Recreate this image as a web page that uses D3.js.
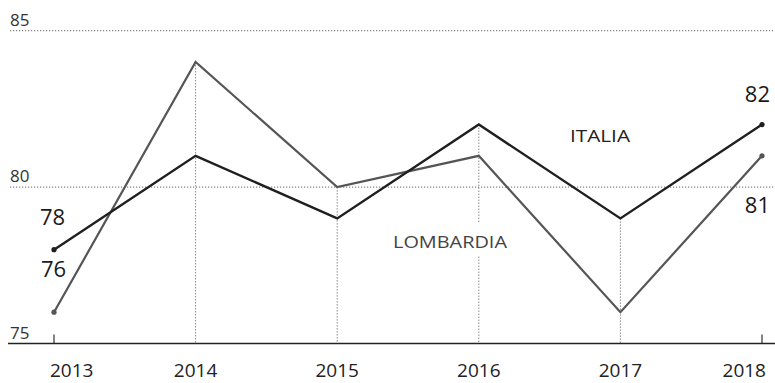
<!DOCTYPE html>
<html>
<head>
<meta charset="utf-8">
<script src="https://cdn.jsdelivr.net/npm/d3@7"></script>
<style>
  html, body { margin: 0; padding: 0; background: #fff; }
  svg { display: block; font-family: "Open Sans", sans-serif; }
</style>
</head>
<body>
<svg id="chart" width="775" height="383"></svg>
<script>
const years = [2013, 2014, 2015, 2016, 2017, 2018];
const italia = [78, 81, 79, 82, 79, 82];
const lombardia = [76, 84, 80, 81, 76, 81];
const yTicks = [75, 80, 85];
const seriesNames = ["ITALIA", "LOMBARDIA"];

const svg = d3.select("#chart");
const x = d3.scalePoint().domain(years).range([54, 762]);
const y = d3.scaleLinear().domain([75, 85]).range([343.5, 30.7]);

const cItalia = "#1f1f1f";
const cLomb = "#555555";

// horizontal dotted gridlines
svg.append("g").selectAll("line")
  .data(yTicks.filter(d => d !== 75))
  .join("line")
  .attr("x1", 10).attr("x2", 775)
  .attr("y1", d => y(d)).attr("y2", d => y(d))
  .attr("stroke", "#666").attr("stroke-width", 1)
  .attr("stroke-dasharray", "1.2,1.8");

// y tick labels
svg.append("g").selectAll("text")
  .data(yTicks)
  .join("text")
  .attr("x", 10)
  .attr("y", d => y(d) - 5)
  .attr("font-size", 17)
  .attr("fill", "#333")
  .text(d => d);

// vertical dotted lines for interior years (from baseline to highest point)
const interior = years.map((yr, i) => ({yr, top: Math.max(italia[i], lombardia[i])}))
  .filter((d, i) => i > 0 && i < years.length - 1);
svg.append("g").selectAll("line")
  .data(interior)
  .join("line")
  .attr("x1", d => x(d.yr)).attr("x2", d => x(d.yr))
  .attr("y1", d => y(d.top)).attr("y2", y(75))
  .attr("stroke", "#888").attr("stroke-width", 1)
  .attr("stroke-dasharray", "1.5,1.5");

// end ticks
svg.append("g").selectAll("line")
  .data([years[0], years[years.length - 1]])
  .join("line")
  .attr("x1", d => x(d)).attr("x2", d => x(d))
  .attr("y1", y(75) - 9).attr("y2", y(75))
  .attr("stroke", "#333").attr("stroke-width", 1.2);

// baseline
svg.append("line")
  .attr("x1", 8).attr("x2", 775)
  .attr("y1", y(75)).attr("y2", y(75))
  .attr("stroke", "#222").attr("stroke-width", 1.6);

// x labels
svg.append("g").selectAll("text")
  .data(years)
  .join("text")
  .attr("x", (d, i) => i === 0 ? x(d) - 4 : (i === years.length - 1 ? x(d) + 4 : x(d)))
  .attr("y", 377)
  .attr("text-anchor", (d, i) => i === 0 ? "start" : (i === years.length - 1 ? "end" : "middle"))
  .attr("font-size", 19)
  .attr("fill", "#222")
  .text(d => d);

// lines
const line = d3.line().x(d => x(d.yr)).y(d => y(d.v));
const lombData = years.map((yr, i) => ({yr, v: lombardia[i]}));
const italData = years.map((yr, i) => ({yr, v: italia[i]}));

svg.append("path").datum(lombData)
  .attr("d", line).attr("fill", "none")
  .attr("stroke", cLomb).attr("stroke-width", 2.2).attr("stroke-linejoin", "miter");
svg.append("path").datum(italData)
  .attr("d", line).attr("fill", "none")
  .attr("stroke", cItalia).attr("stroke-width", 2.4).attr("stroke-linejoin", "miter");

// endpoint dots
[[lombData, cLomb], [italData, cItalia]].forEach(([data, c]) => {
  svg.append("g").selectAll("circle")
    .data([data[0], data[data.length - 1]])
    .join("circle")
    .attr("cx", d => x(d.yr)).attr("cy", d => y(d.v))
    .attr("r", 2.6).attr("fill", c);
});

// value labels
const first = 0, last = years.length - 1;
svg.append("text").attr("x", 40).attr("y", 225).attr("font-size", 22).attr("fill", "#1a1a1a").text(italia[first]);
svg.append("text").attr("x", 41).attr("y", 277).attr("font-size", 22).attr("fill", "#1a1a1a").text(lombardia[first]);
svg.append("text").attr("x", 770).attr("y", 102).attr("text-anchor", "end").attr("font-size", 22).attr("fill", "#1a1a1a").text(italia[last]);
svg.append("text").attr("x", 770).attr("y", 213).attr("text-anchor", "end").attr("font-size", 22).attr("fill", "#1a1a1a").text(lombardia[last]);

// series name labels
svg.append("rect").attr("x", 388).attr("y", 222).attr("width", 124).attr("height", 34).attr("fill", "#fff");
svg.append("text").attr("x", 570).attr("y", 142)
  .attr("font-size", 16).attr("fill", "#222")
  .attr("textLength", 60).attr("lengthAdjust", "spacingAndGlyphs")
  .text(seriesNames[0]);
svg.append("text").attr("x", 393).attr("y", 248)
  .attr("font-size", 17).attr("fill", "#444")
  .attr("textLength", 114).attr("lengthAdjust", "spacingAndGlyphs")
  .text(seriesNames[1]);
</script>
</body>
</html>
